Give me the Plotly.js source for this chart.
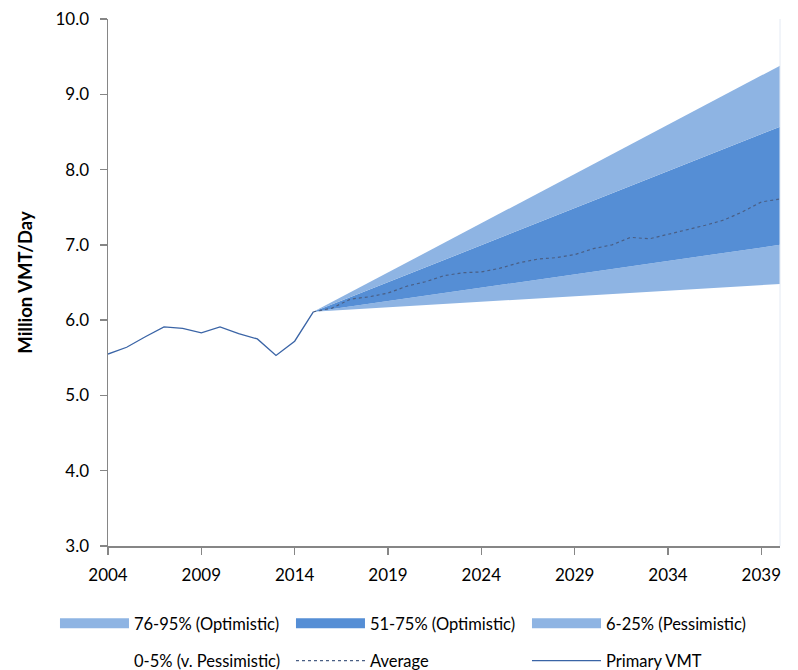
<!DOCTYPE html>
<html>
<head>
<meta charset="utf-8">
<script src="https://cdn.plot.ly/plotly-3.0.1.min.js"></script>
<style>html,body{margin:0;padding:0;background:#fff;}#chart{width:798px;height:670px;}</style>
</head>
<body>
<div id="chart"></div>
<script>
// Historical series
const histYears = [2004, 2005, 2006, 2007, 2008, 2009, 2010, 2011, 2012, 2013, 2014, 2015];
const primaryVMT = [5.55, 5.64, 5.78, 5.91, 5.89, 5.83, 5.91, 5.82, 5.75, 5.53, 5.72, 6.11];

// Projection: average
const projYears = [2015, 2016, 2017, 2018, 2019, 2020, 2021, 2022, 2023, 2024, 2025, 2026, 2027, 2028,
                   2029, 2030, 2031, 2032, 2033, 2034, 2035, 2036, 2037, 2038, 2039, 2040];
const averageVMT = [6.11, 6.16, 6.28, 6.31, 6.36, 6.45, 6.51, 6.59, 6.63, 6.64, 6.69, 6.76, 6.81, 6.83,
                    6.87, 6.95, 7.00, 7.10, 7.08, 7.14, 7.21, 7.26, 7.33, 7.44, 7.57, 7.61];

// Percentile band bounds (straight fan)
const bandYears = [2015, 2040];
const p5  = [6.11, 6.48];
const p25 = [6.11, 7.00];
const p75 = [6.11, 8.57];
const p95 = [6.11, 9.38];

const bandNames = ['0-5% (v. Pessimistic)', '6-25% (Pessimistic)', '51-75% (Optimistic)', '76-95% (Optimistic)'];
const xTicks = [2004, 2009, 2014, 2019, 2024, 2029, 2034, 2039];
const yTicks = [3, 4, 5, 6, 7, 8, 9, 10];

const light = '#8eb4e3';
const dark = '#558ed5';
const F = 'Lato, "Open Sans", sans-serif';

const traces = [
  {x: bandYears, y: p5, type: 'scatter', mode: 'lines', line: {width: 0, color: 'rgba(0,0,0,0)'},
   fill: 'tozeroy', fillcolor: 'rgba(255,255,255,0)', showlegend: false},
  {x: bandYears, y: p25, type: 'scatter', mode: 'lines', line: {width: 0, color: light},
   fill: 'tonexty', fillcolor: light, showlegend: false},
  {x: bandYears, y: p75, type: 'scatter', mode: 'lines', line: {width: 0, color: dark},
   fill: 'tonexty', fillcolor: dark, showlegend: false},
  {x: bandYears, y: p95, type: 'scatter', mode: 'lines', line: {width: 0, color: light},
   fill: 'tonexty', fillcolor: light, showlegend: false},
  {x: projYears, y: averageVMT, type: 'scatter', mode: 'lines', line: {width: 1.2, color: '#4a5f85', dash: 'dot'},
   name: 'Average', legend: 'legend2', legendrank: 2},
  {x: histYears, y: primaryVMT, type: 'scatter', mode: 'lines', line: {width: 1.3, color: '#3a64a6'},
   name: 'Primary VMT', legend: 'legend2', legendrank: 3},
  // legend swatches for the bands
  {x: [null], y: [null], type: 'scatter', mode: 'lines', line: {width: 11, color: light},
   name: bandNames[3], legend: 'legend', legendrank: 1},
  {x: [null], y: [null], type: 'scatter', mode: 'lines', line: {width: 11, color: dark},
   name: bandNames[2], legend: 'legend', legendrank: 2},
  {x: [null], y: [null], type: 'scatter', mode: 'lines', line: {width: 11, color: light},
   name: bandNames[1], legend: 'legend', legendrank: 3},
  {x: [null], y: [null], type: 'scatter', mode: 'lines', line: {width: 11, color: 'rgba(255,255,255,0)'},
   name: bandNames[0], legend: 'legend2', legendrank: 1}
];

const legendBase = {
  orientation: 'h', xanchor: 'left', yanchor: 'middle', traceorder: 'normal',
  font: {family: F, size: 16.5, color: '#000'}, bgcolor: 'rgba(0,0,0,0)',
  itemwidth: 69, entrywidth: 152, entrywidthmode: 'pixels', itemclick: false
};

const layout = {
  width: 798, height: 670,
  margin: {l: 108, r: 18, t: 19, b: 124, autoexpand: false},
  paper_bgcolor: '#fff', plot_bgcolor: '#fff',
  showlegend: true,
  xaxis: {
    range: [2004, 2040], tickvals: xTicks, ticktext: xTicks.map(String),
    showgrid: false, zeroline: false, showline: true, linecolor: '#868686', linewidth: 1.5,
    ticks: 'outside', ticklen: 7, tickcolor: '#868686', tickwidth: 1.5, ticklabelstandoff: 6,
    tickfont: {family: F, size: 17, color: '#000'}
  },
  yaxis: {
    range: [3, 10], tickvals: yTicks, tickformat: '.1f',
    showgrid: false, zeroline: false, showline: true, linecolor: '#868686', linewidth: 1.5,
    ticks: 'outside', ticklen: 7, tickcolor: '#868686', tickwidth: 1.5, ticklabelstandoff: 7,
    tickfont: {family: F, size: 17, color: '#000'},
    title: {text: 'Million VMT/Day', font: {family: F, size: 18.5, color: '#000', weight: 'bold'}, standoff: 18}
  },
  legend: Object.assign({}, legendBase, {x: -0.0789, y: -0.147}),
  legend2: Object.assign({}, legendBase, {x: -0.0789, y: -0.218}),
  shapes: [{type: 'line', xref: 'paper', yref: 'paper', x0: 1, x1: 1, y0: 0, y1: 1,
            line: {color: '#e4eaf4', width: 1}}]
};

Plotly.newPlot('chart', traces, layout, {displayModeBar: false, staticPlot: true});
</script>
</body>
</html>
